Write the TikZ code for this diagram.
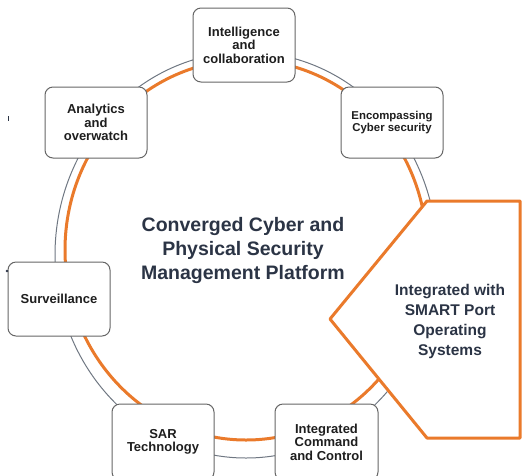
\documentclass[tikz,border=0pt]{standalone}
\usepackage{fontspec}
\setmainfont{Liberation Sans}
\definecolor{orng}{HTML}{EA7A2B}
\definecolor{ringgray}{HTML}{6F7782}
\definecolor{boxgray}{HTML}{666666}
\definecolor{slate}{HTML}{2B3445}
\definecolor{boxtext}{HTML}{1E1E1E}
\begin{document}
\begin{tikzpicture}[x=1pt,y=-1pt,
  boxstyle/.style={draw=boxgray, line width=1pt, fill=white, rounded corners=8pt,
    minimum width=102pt, minimum height=73pt, align=center, inner sep=0pt,
    text=boxtext, font=\bfseries\fontsize{13}{13.6}\selectfont},
  smallbox/.style={boxstyle, font=\bfseries\fontsize{11.4}{11.2}\selectfont},
  ringouter/.style={draw=ringgray, line width=1pt},
  ringinner/.style={draw=orng, line width=3pt},
  portshape/.style={draw=orng, line width=3pt, fill=white, line join=round},
  centertext/.style={align=center, text=slate, font=\bfseries\fontsize{19.5}{24}\selectfont},
  porttext/.style={align=center, text=slate, font=\bfseries\fontsize{15.5}{20}\selectfont}]
\useasboundingbox (0,0) rectangle (524,475);
\clip (0,0) rectangle (524,475);
% rings
\draw[ringouter] (246,255) ellipse [x radius=191pt, y radius=203pt];
\draw[ringinner] (246,250) ellipse [x radius=181pt, y radius=190pt];
% port shape
\coordinate (p1) at (427,201);
\coordinate (p2) at (520,201);
\coordinate (p3) at (520,438);
\coordinate (p4) at (427,438);
\coordinate (p5) at (330,319);
\draw[portshape] (p1) -- (p2) -- (p3) -- (p4) -- (p5) -- cycle;
\node[porttext] (port) at (450,321) {Integrated with\\SMART Port\\Operating\\Systems};
% center text
\node[centertext] (core) at (243,250) {Converged Cyber and\\Physical Security\\Management Platform};
% boxes
\node[boxstyle, minimum height=74pt] (intel) at (244,45) {Intelligence\\and\\collaboration};
\node[boxstyle, minimum height=71pt] (analytics) at (96,122.5) {Analytics\\and\\overwatch};
\node[smallbox, minimum height=71pt] (cyber) at (392,122.5) {Encompassing\\Cyber security};
\node[boxstyle, minimum height=74pt] (surv) at (59,299) {Surveillance};
\node[boxstyle, minimum height=76pt] (sar) at (163,442) {SAR\\Technology};
\node[boxstyle, minimum width=103pt, minimum height=76pt] (icc) at (326.5,442) {Integrated\\Command\\and Control};
% small marks
\fill[slate] (7.6,115.5) rectangle (9.2,121);
\fill[slate] (7,271) circle [radius=1.3pt];
\end{tikzpicture}
\end{document}
